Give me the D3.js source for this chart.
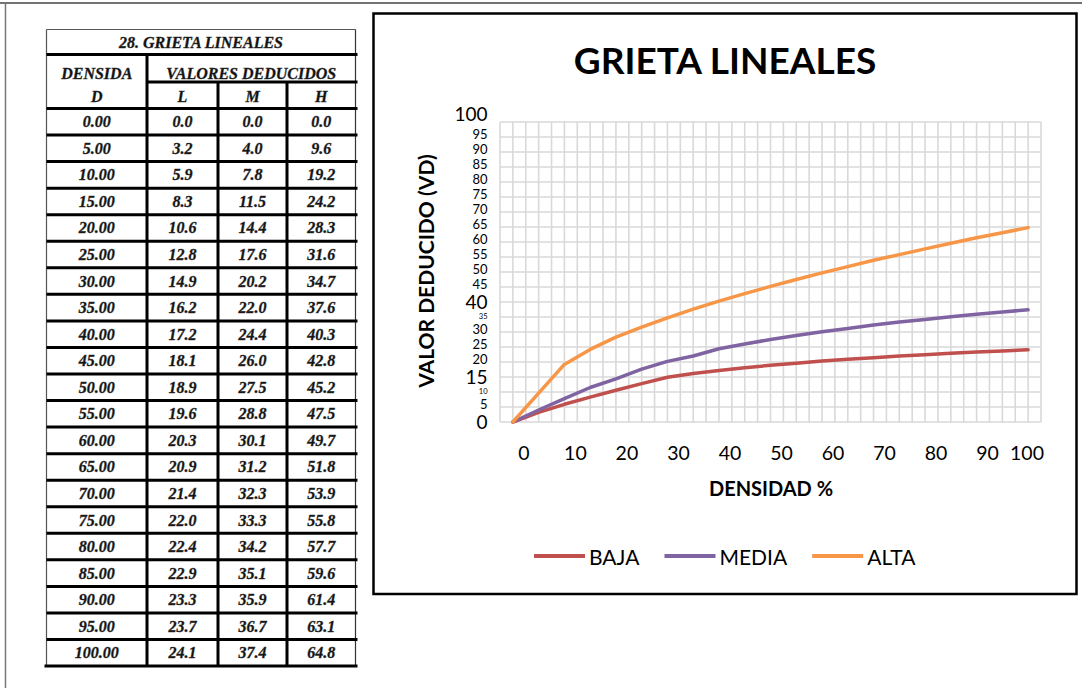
<!DOCTYPE html>
<html>
<head>
<meta charset="utf-8">
<script src="https://cdn.jsdelivr.net/npm/d3@7/dist/d3.min.js"></script>
<style>
  html, body { margin: 0; padding: 0; background: #fff; }
  svg { display: block; }
</style>
</head>
<body>
<svg id="page" width="1082" height="688"></svg>
<script>
// Density (%) and deduct values for linear cracking (L = low, M = medium, H = high severity)
const densidad = [0, 5, 10, 15, 20, 25, 30, 35, 40, 45, 50, 55, 60, 65, 70, 75, 80, 85, 90, 95, 100];
const baja  = [0.0, 3.2, 5.9, 8.3, 10.6, 12.8, 14.9, 16.2, 17.2, 18.1, 18.9, 19.6, 20.3, 20.9, 21.4, 22.0, 22.4, 22.9, 23.3, 23.7, 24.1];
const media = [0.0, 4.0, 7.8, 11.5, 14.4, 17.6, 20.2, 22.0, 24.4, 26.0, 27.5, 28.8, 30.1, 31.2, 32.3, 33.3, 34.2, 35.1, 35.9, 36.7, 37.4];
const alta  = [0.0, 9.6, 19.2, 24.2, 28.3, 31.6, 34.7, 37.6, 40.3, 42.8, 45.2, 47.5, 49.7, 51.8, 53.9, 55.8, 57.7, 59.6, 61.4, 63.1, 64.8];

const seriesNames  = ["BAJA", "MEDIA", "ALTA"];
const seriesColors = ["#C0504D", "#8064A2", "#F79646"];

const xTickValues = [0, 10, 20, 30, 40, 50, 60, 70, 80, 90, 100];
const yTickValues = [0, 5, 10, 15, 20, 25, 30, 35, 40, 45, 50, 55, 60, 65, 70, 75, 80, 85, 90, 95, 100];

const tableTitle   = "28. GRIETA LINEALES";
const headDensidad = ["DENSIDA", "D"];
const headValores  = "VALORES DEDUCIDOS";
const headSeverity = ["L", "M", "H"];

const chartTitle = "GRIETA LINEALES";
const yTitle = "VALOR DEDUCIDO (VD)";
const xTitle = "DENSIDAD %";

const svg = d3.select("#page");

// ---------- page frame ----------
svg.append("line").attr("x1", 0).attr("x2", 1082).attr("y1", 3).attr("y2", 3)
  .attr("stroke", "#444").attr("stroke-width", 1.5);
svg.append("line").attr("x1", 5.5).attr("x2", 5.5).attr("y1", 3).attr("y2", 688)
  .attr("stroke", "#777").attr("stroke-width", 1.5);

// ---------- table ----------
const serif = "'Liberation Serif', 'Times New Roman', serif";
const tbl = svg.append("g");
const colX = [46.5, 147, 218, 287, 355.5];     // column boundaries
const titleTop = 29.5, titleBot = 54.5, subBot = 82, headBot = 108.5;
const rowH = 26.55;
const rowY = d3.scaleLinear().domain([0, densidad.length]).range([headBot, headBot + densidad.length * rowH]);
const tableBottom = rowY(densidad.length);
const cellFont = 16;

function tText(x, y, s) {
  tbl.append("text").attr("x", x).attr("y", y)
    .attr("text-anchor", "middle").attr("dominant-baseline", "central")
    .attr("font-family", serif).attr("font-weight", "bold").attr("font-style", "italic")
    .attr("font-size", cellFont).attr("fill", "#111")
    .attr("stroke", "#333").attr("stroke-width", 0.35)
    .text(s);
}
const thick = (x1, y1, x2, y2) => tbl.append("line").attr("x1", x1).attr("y1", y1).attr("x2", x2).attr("y2", y2)
  .attr("stroke", "#000").attr("stroke-width", 3);
const thin = (x1, y1, x2, y2, c) => tbl.append("line").attr("x1", x1).attr("y1", y1).attr("x2", x2).attr("y2", y2)
  .attr("stroke", c || "#555").attr("stroke-width", 1.2);

// outer thin borders
thin(colX[0], titleTop, colX[4], titleTop);
thin(colX[0], titleTop, colX[0], tableBottom);
thin(colX[4], titleTop, colX[4], tableBottom, "#333");

// header lines
thick(colX[0], titleBot, colX[4] + 2, titleBot);
thick(colX[1], subBot, colX[4] + 2, subBot);
thick(colX[0], headBot, colX[4] + 2, headBot);
thick(colX[1], titleBot, colX[1], tableBottom);
thick(colX[2], subBot, colX[2], tableBottom);
thick(colX[3], subBot, colX[3], tableBottom);

// row separators
densidad.forEach((d, i) => {
  if (i > 0) thick(colX[0], rowY(i), colX[4] + 2, rowY(i));
});
thick(colX[0] - 2, tableBottom, colX[4] + 2, tableBottom);

// header text
tText((colX[0] + colX[4]) / 2, (titleTop + titleBot) / 2, tableTitle);
tText((colX[0] + colX[1]) / 2, 73, headDensidad[0]);
tText((colX[0] + colX[1]) / 2, 96, headDensidad[1]);
tText((colX[1] + colX[4]) / 2, 73, headValores);
headSeverity.forEach((h, i) => tText((colX[i + 1] + colX[i + 2]) / 2, 96, h));

// body
densidad.forEach((d, i) => {
  const cy = (rowY(i) + rowY(i + 1)) / 2;
  tText((colX[0] + colX[1]) / 2, cy, d.toFixed(2));
  [baja, media, alta].forEach((arr, j) => {
    tText((colX[j + 1] + colX[j + 2]) / 2, cy, arr[i].toFixed(1));
  });
});

// ---------- chart ----------
const sans = "Lato, 'Open Sans', sans-serif";
svg.append("rect").attr("x", 373.5).attr("y", 13.5).attr("width", 703).attr("height", 580.5)
  .attr("fill", "#fff").attr("stroke", "#000").attr("stroke-width", 2.5);

svg.append("text").attr("x", 725).attr("y", 74).attr("text-anchor", "middle")
  .attr("font-family", sans).attr("font-weight", "bold").attr("font-size", 37)
  .attr("fill", "#000").text(chartTitle);

// category positions for 21 density points spread over the plot width
const x = d3.scaleLinear().domain([-2.5, 102.5]).range([500, 1041]);
const y = d3.scaleLinear().domain([0, 100]).range([422, 122]);

const grid = svg.append("g").attr("stroke", "#D9D9D9").attr("stroke-width", 1.6);
d3.range(-2.5, 102.6, 2.5).forEach(v => {
  grid.append("line").attr("x1", x(v)).attr("x2", x(v)).attr("y1", y(100)).attr("y2", y(0));
});
yTickValues.forEach(v => {
  grid.append("line").attr("x1", x(-2.5)).attr("x2", x(102.5)).attr("y1", y(v)).attr("y2", y(v));
});

// y tick labels (mixed sizes)
const BIG = 19, SMALL = 13, TINY = 7.5;
const ySize = v => ({ 100: BIG, 40: BIG, 15: BIG, 0: BIG, 35: TINY, 10: TINY })[v] || SMALL;
const yShift = v => v === 100 ? -9 : (ySize(v) === BIG ? -0.5 : (ySize(v) === TINY ? -1 : -3.5));
svg.append("g").selectAll("text").data(yTickValues).join("text")
  .attr("x", 487.5).attr("y", v => y(v) + yShift(v))
  .attr("text-anchor", "end").attr("dominant-baseline", "central")
  .attr("font-family", sans).attr("font-size", ySize).attr("fill", "#000")
  .text(v => v);

// x tick labels
svg.append("g").selectAll("text").data(xTickValues).join("text")
  .attr("x", v => Math.min(x(v) + 11, 1027))
  .attr("y", 452)
  .attr("text-anchor", "middle").attr("dominant-baseline", "central")
  .attr("font-family", sans).attr("font-size", 19.5).attr("fill", "#000")
  .text(v => v);

// axis titles
svg.append("text").attr("transform", "translate(425,271) rotate(-90)")
  .attr("text-anchor", "middle").attr("dominant-baseline", "central")
  .attr("font-family", sans).attr("font-weight", "bold").attr("font-size", 21)
  .attr("fill", "#000").text(yTitle);
svg.append("text").attr("x", 771).attr("y", 488)
  .attr("text-anchor", "middle").attr("dominant-baseline", "central")
  .attr("font-family", sans).attr("font-weight", "bold").attr("font-size", 20)
  .attr("fill", "#000").text(xTitle);

// series lines
const line = d3.line().x((d, i) => x(densidad[i])).y(d => y(d));
[baja, media, alta].forEach((arr, i) => {
  svg.append("path").datum(arr).attr("d", line)
    .attr("fill", "none").attr("stroke", seriesColors[i]).attr("stroke-width", 3.5)
    .attr("stroke-linejoin", "round").attr("stroke-linecap", "round");
});

// legend
const lg = svg.append("g");
let lx = 534;
seriesNames.forEach((name, i) => {
  lg.append("line").attr("x1", lx).attr("x2", lx + 51).attr("y1", 556).attr("y2", 556)
    .attr("stroke", seriesColors[i]).attr("stroke-width", 4);
  const t = lg.append("text").attr("x", lx + 55).attr("y", 556)
    .attr("dominant-baseline", "central")
    .attr("font-family", sans).attr("font-size", 21).attr("fill", "#000").text(name);
  lx += 55 + t.node().getComputedTextLength() + 25;
});
</script>
</body>
</html>
